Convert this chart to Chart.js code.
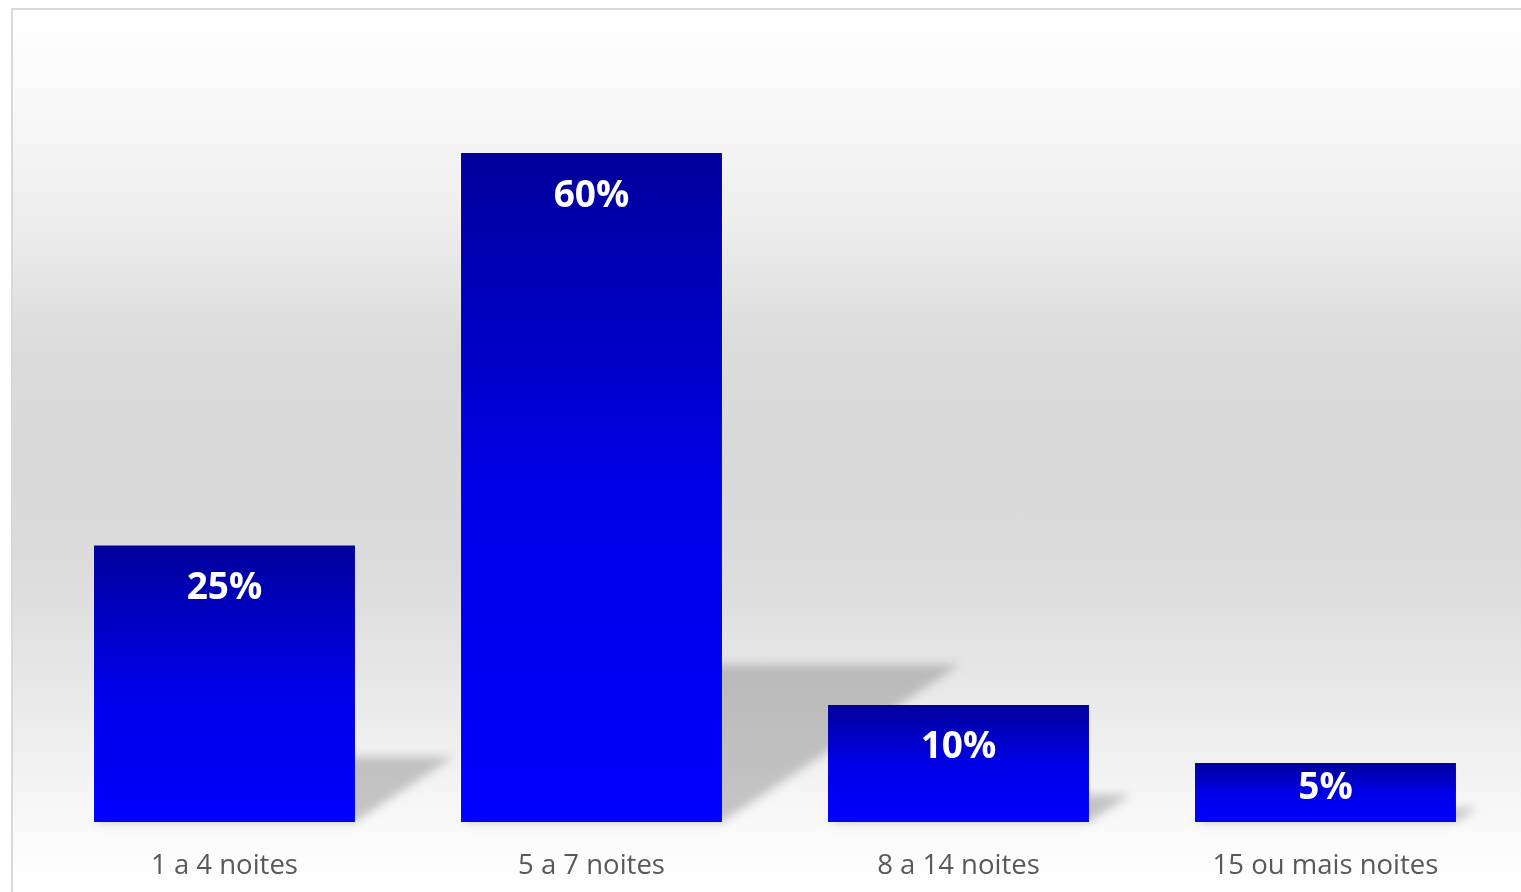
<!DOCTYPE html>
<html>
<head>
<meta charset="utf-8">
<script src="https://cdn.jsdelivr.net/npm/chart.js@4/dist/chart.umd.min.js"></script>
<style>
  html, body { margin: 0; padding: 0; width: 1521px; height: 892px; overflow: hidden; background: #fff; }
  #frame {
    position: absolute; left: 11px; top: 8px; width: 1600px; height: 1000px;
    border-left: 2px solid #d9d9d9; border-top: 2px solid #d9d9d9;
    background: linear-gradient(to bottom, #ffffff 0px, #f8f8f8 100px, #ececec 220px, #dcdcdc 330px, #d9d9d9 450px, #dcdcdc 560px, #e6e6e6 660px, #f2f2f2 760px, #fbfbfb 830px, #ffffff 884px);
  }
  #wrap { position: absolute; left: 0; top: 0; width: 1521px; height: 892px; }
</style>
</head>
<body>
<div id="frame"></div>
<div id="wrap"><canvas id="chart"></canvas></div>
<script>
// values (percent of stays)
const categories = ["1 a 4 noites", "5 a 7 noites", "8 a 14 noites", "15 ou mais noites"];
const shares = [24.8, 60, 10.5, 5.3];
const valueLabels = ["25%", "60%", "10%", "5%"];

// per-bar vertical gradient, dark navy at the top to pure blue at the base
const barFill = (context) => {
  const chart = context.chart;
  const area = chart.chartArea;
  if (!area || context.type !== "data") return "#0000e0";
  const y = chart.scales.y;
  const top = y.getPixelForValue(context.raw);
  const base = y.getPixelForValue(0);
  const g = chart.ctx.createLinearGradient(0, top, 0, base);
  g.addColorStop(0, "#00009c");
  g.addColorStop(0.5, "#0000e6");
  g.addColorStop(1, "#0000ff");
  return g;
};

// grey skewed shadow cast to the right of each bar
const barShadows = {
  id: "barShadows",
  beforeDatasetsDraw(chart) {
    const ctx = chart.ctx;
    const bars = chart.getDatasetMeta(0).data;
    ctx.save();
    ctx.filter = "blur(5px)";
    ctx.fillStyle = "rgba(120,120,120,0.4)";
    bars.forEach((bar) => {
      const h = bar.base - bar.y;
      const x0 = bar.x - bar.width / 2;
      const x1 = bar.x + bar.width / 2;
      const dx = h * 0.355;
      const dy = h * 0.235;
      ctx.beginPath();
      ctx.moveTo(x0, bar.base);
      ctx.lineTo(x1, bar.base);
      ctx.lineTo(x1 + dx, bar.base - dy);
      ctx.lineTo(x0 + dx, bar.base - dy);
      ctx.closePath();
      ctx.fill();
    });
    ctx.restore();
  },
};

// white bold labels just inside the top of each bar
const insideLabels = {
  id: "insideLabels",
  afterDatasetsDraw(chart) {
    const ctx = chart.ctx;
    const bars = chart.getDatasetMeta(0).data;
    ctx.save();
    ctx.fillStyle = "#ffffff";
    ctx.font = "bold 37px 'Open Sans', sans-serif";
    ctx.textAlign = "center";
    ctx.textBaseline = "middle";
    bars.forEach((bar, i) => {
      const h = bar.base - bar.y;
      ctx.fillText(valueLabels[i], bar.x, bar.y + Math.min(40, h * 0.38) + 3);
    });
    ctx.restore();
  },
};

new Chart(document.getElementById("chart"), {
  type: "bar",
  data: {
    labels: categories,
    datasets: [
      {
        data: shares,
        backgroundColor: barFill,
        borderWidth: 0,
        categoryPercentage: 0.711,
        barPercentage: 1,
      },
    ],
  },
  options: {
    responsive: true,
    maintainAspectRatio: false,
    animation: false,
    layout: { padding: { left: 41, right: 12, top: 41.5, bottom: 0 } },
    plugins: { legend: { display: false }, tooltip: { enabled: false } },
    scales: {
      x: {
        grid: { display: false },
        border: { display: false },
        afterFit: (scale) => { scale.height = 70; },
        ticks: {
          color: "#595959",
          padding: 20,
          font: { family: "'Open Sans', sans-serif", size: 27.5 },
        },
      },
      y: { display: false, min: 0, max: 70 },
    },
  },
  plugins: [barShadows, insideLabels],
});
</script>
</body>
</html>
